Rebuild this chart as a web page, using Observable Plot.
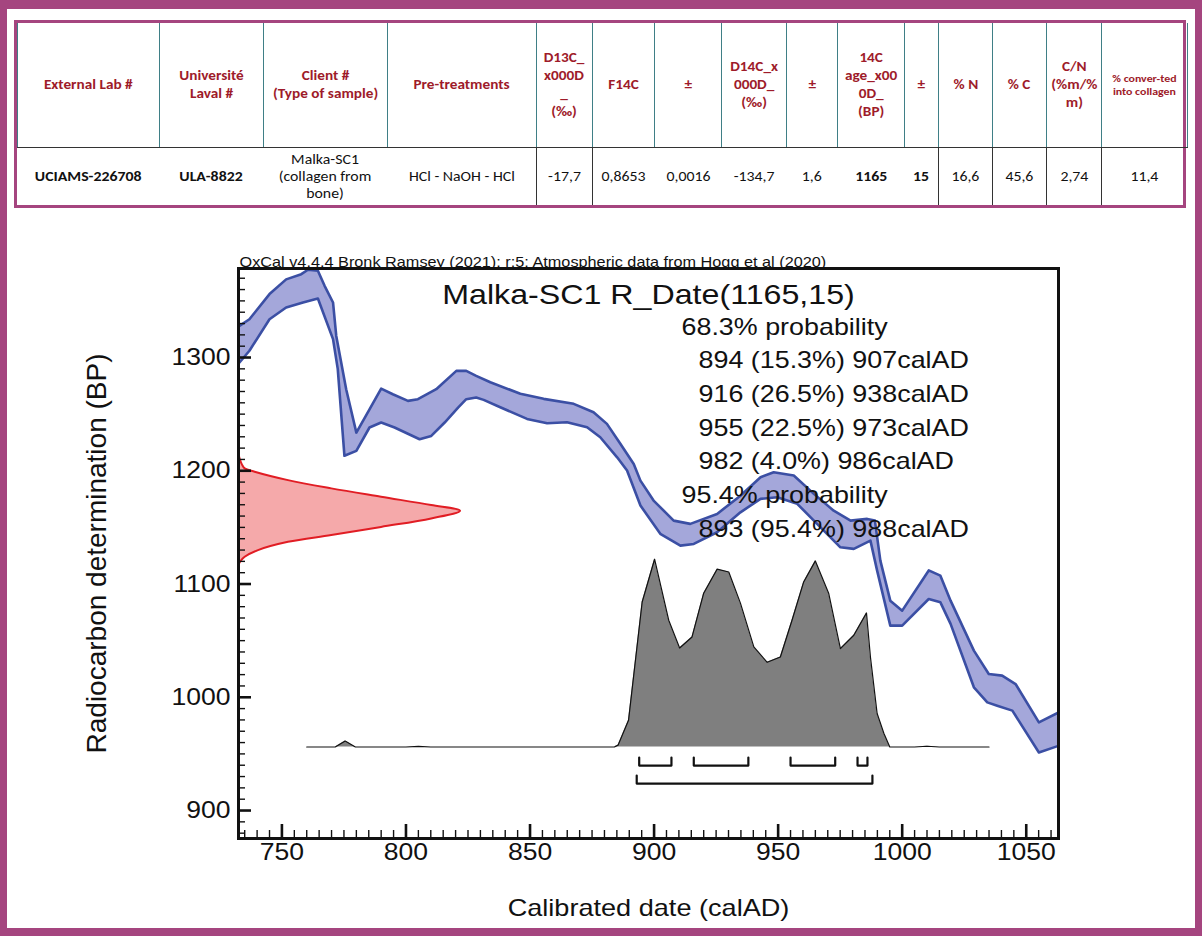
<!DOCTYPE html>
<html><head><meta charset="utf-8">
<script src="https://cdn.jsdelivr.net/npm/d3@7"></script>
<script src="https://cdn.jsdelivr.net/npm/@observablehq/plot@0.6"></script>
<style>
html,body{margin:0;padding:0;background:#fff;}
#page{position:relative;width:1202px;height:936px;overflow:hidden;background:#fff;}
#border{position:absolute;left:0;top:0;width:1202px;height:936px;box-sizing:border-box;border-style:solid;border-color:#a5457f;border-width:9px 7px 8px 7px;pointer-events:none;z-index:5;}
#tbl{position:absolute;left:14px;top:20px;width:1172px;height:188px;box-sizing:border-box;border:3px solid #a5457f;background:#fff;}
#tbl table{border-collapse:collapse;width:100%;height:100%;table-layout:fixed;font-family:Carlito,Lato,"Liberation Sans",sans-serif;}
#tbl th{color:#9e1b2a;font-weight:bold;font-size:13.5px;line-height:18px;text-align:center;vertical-align:middle;border-left:1.5px solid #3f7f86;border-right:1.5px solid #3f7f86;border-bottom:1.5px solid #333;padding:0;height:124px;white-space:nowrap;}
#tbl th.small{font-size:10.5px;line-height:13px;}
#tbl td{color:#111;font-size:14px;line-height:17px;text-align:center;vertical-align:middle;padding:0;white-space:nowrap;}
#tbl td.b{font-weight:bold;}
#tbl td.vl{border-left:1.5px solid #333;}
#tbl span.s{display:inline-block;transform:scaleX(1.13);transform-origin:50% 50%;}
#chart{position:absolute;left:0;top:230px;}
</style></head>
<body><div id="page"><div id="tbl"></div><div id="chart"></div><div id="border"></div></div>
<script>
// ---------- table data ----------
const headerCells = ["External Lab #", "Université\nLaval #", "Client #\n(Type of sample)", "Pre-treatments",
  "D13C_\nx000D\n_\n(‰)", "F14C", "±", "D14C_x\n000D_\n(‰)", "±", "14C\nage_x00\n0D_\n(BP)", "±",
  "% N", "% C", "C/N\n(%m/%\nm)", "% conver-ted\ninto collagen"];
const sampleRow = ["UCIAMS-226708", "ULA-8822", "Malka-SC1\n(collagen from\nbone)", "HCl - NaOH - HCl",
  "-17,7", "0,8653", "0,0016", "-134,7", "1,6", "1165", "15", "16,6", "45,6", "2,74", "11,4"];
const boldCols = [0, 1, 9, 10];
const ruledCols = [4, 5, 11, 12, 13, 14];
const colWidths = [142, 104, 124, 149, 56, 62, 67, 65, 51, 67, 34, 54, 54, 55, 86];

// ---------- chart data ----------
const upperYear = [732.9, 736.9, 745, 751.7, 757.8, 760.5, 764.5, 767.2, 770.6, 771.9, 775.9, 780, 785.3, 790, 794.7, 800.8, 804.8, 812.2, 820.3, 824.3, 828.3, 834, 846.1, 855.5, 867.6, 875.6, 881, 886.4, 891.8, 894.5, 899.8, 907.9, 914.6, 925.4, 934.8, 942.9, 948.2, 956.3, 964.4, 972.4, 979.2, 985.9, 989, 991.2, 995.2, 1000, 1010.7, 1015.4, 1019.5, 1028.9, 1034.9, 1040.3, 1045.7, 1055.1, 1063.1];
const upperBP = [1328, 1333.8, 1356, 1369, 1373.6, 1377.5, 1376.6, 1363.3, 1348.6, 1319, 1272, 1233.7, 1254.3, 1272.6, 1267.6, 1261.7, 1263.2, 1272, 1288.2, 1288.2, 1283.8, 1278.2, 1268, 1263.5, 1259.1, 1251.7, 1241.4, 1223.8, 1206, 1191.3, 1173.7, 1156, 1153.1, 1161.9, 1178, 1194.3, 1198.7, 1195.8, 1179.6, 1164.8, 1156, 1157.5, 1156, 1120.7, 1085.3, 1076.5, 1112, 1107.4, 1085.3, 1041.2, 1020.6, 1019.1, 1011.7, 977.8, 986.7];
const lowerYear = [732.9, 736.9, 745, 751.7, 758.5, 764.5, 770.6, 772.5, 775.2, 780, 785.3, 790, 795.4, 805.5, 810.2, 815.6, 821, 824.3, 828.3, 831.3, 838, 848.8, 856.9, 864.9, 873, 878.3, 885.1, 889.1, 894.5, 902.5, 910.6, 916, 925.4, 934.8, 942.9, 949.6, 957.7, 965.7, 975.1, 980.5, 987.2, 989.9, 995.2, 1000, 1010.7, 1015.4, 1019.5, 1028.9, 1034.3, 1038.3, 1044.4, 1055.1, 1063.1];
const lowerBP = [1295.6, 1306, 1333.8, 1344.2, 1348.6, 1352.1, 1316.2, 1290, 1213.2, 1217.6, 1238.2, 1242.6, 1238.2, 1227.8, 1230.8, 1242.6, 1255.8, 1263.2, 1264.7, 1262.6, 1256.1, 1245.8, 1242, 1242.8, 1238.4, 1229.6, 1211.9, 1200.2, 1169.3, 1144.3, 1133.9, 1135.4, 1145.7, 1163.3, 1175.2, 1176.6, 1170.8, 1153.1, 1132.4, 1131, 1138.3, 1111.8, 1063.3, 1063.3, 1086.8, 1083.8, 1064.8, 1008.8, 995.5, 992.6, 988.2, 951.3, 957.2];

// calibrated (posterior) distribution, relative probability
const postYear = [760, 771.5, 775.5, 779.6, 800, 805, 810, 884, 885.5, 889.7, 895.2, 900.2, 905.9, 910.3, 915.3, 920, 925.4, 930.1, 934.8, 940.2, 945.6, 950.9, 955.6, 960.3, 965, 970.4, 975.1, 980.5, 985.6, 987.2, 989.9, 992.6, 995, 1005, 1010, 1015, 1035];
const postProb = [0, 0, 0.032, 0, 0, 0.003, 0, 0, 0.01, 0.142, 0.772, 1, 0.675, 0.527, 0.586, 0.819, 0.947, 0.932, 0.766, 0.533, 0.451, 0.479, 0.675, 0.879, 0.991, 0.817, 0.524, 0.595, 0.714, 0.479, 0.178, 0.073, 0, 0, 0.004, 0, 0];

// radiocarbon determination (likelihood), relative probability
const likeBP = [1216, 1210, 1205, 1201.7, 1198.7, 1191.3, 1184, 1176.6, 1169.3, 1164.2, 1157.5, 1150, 1142.8, 1136.8, 1129.5, 1123.6, 1120, 1116];
const likeProb = [0, 0.008, 0.018, 0.03, 0.075, 0.225, 0.42, 0.644, 0.87, 1, 0.87, 0.644, 0.42, 0.225, 0.09, 0.03, 0.012, 0];

const ranges68 = [[894, 907], [916, 938], [955, 973], [982, 986]];
const ranges95 = [[893, 988]];

const headerNote = "OxCal v4.4.4 Bronk Ramsey (2021); r:5; Atmospheric data from Hogg et al (2020)";
const chartTitle = "Malka-SC1 R_Date(1165,15)";
const summaryLines = ["68.3% probability", "894 (15.3%) 907calAD", "916 (26.5%) 938calAD", "955 (22.5%) 973calAD", "982 (4.0%) 986calAD", "95.4% probability", "893 (95.4%) 988calAD"];
const yLabel = "Radiocarbon determination (BP)";
const xLabel = "Calibrated date (calAD)";
const yMajor = [900, 1000, 1100, 1200, 1300];
const xMajor = [750, 800, 850, 900, 950, 1000, 1050];

// ---------- build table ----------
(function () {
  const esc = s => s.replace(/&/g, "&amp;").replace(/</g, "&lt;").split("\n").join("<br>");
  const wrap = s => `<span class="s">${esc(s)}</span>`;
  let html = "<table><colgroup>" + colWidths.map(w => `<col style="width:${w}px">`).join("") + "</colgroup>";
  html += "<tr>" + headerCells.map((h, i) => `<th class="${i === headerCells.length - 1 ? "small" : ""}">${wrap(h)}</th>`).join("") + "</tr>";
  html += "<tr>" + sampleRow.map((v, i) => {
    const cls = [boldCols.includes(i) ? "b" : "", ruledCols.includes(i) ? "vl" : ""].join(" ");
    return `<td class="${cls}">${wrap(v)}</td>`;
  }).join("") + "</tr></table>";
  document.getElementById("tbl").innerHTML = html;
})();

// ---------- chart ----------
const xDomain = [732.5, 1063];
const yDomain = [875.3, 1378.6];
const postBase = 956.1, postHeight = 165.8;   // vertical placement of the calibrated distribution
const likeSpan = 89.5;                          // horizontal extent of the determination curve
const lvl68 = [946.8, 939.7], lvl95 = [930.9, 923.8];
const stretch = 1.13;                           // horizontal glyph stretch of the reference

const band = upperYear.map((x, i) => ({x, y: upperBP[i]}))
  .concat(lowerYear.map((x, i) => ({x, y: lowerBP[i]})).reverse());
const upper = upperYear.map((x, i) => ({x, y: upperBP[i]}));
const lower = lowerYear.map((x, i) => ({x, y: lowerBP[i]}));
const post = postYear.map((x, i) => ({x, p: postProb[i]}));
const like = likeBP.map((y, i) => ({y, p: likeProb[i]}));
const brackets = [];
ranges68.forEach((r, k) => { brackets.push({k: "a" + k, x: r[0], y: lvl68[0]}, {k: "a" + k, x: r[0], y: lvl68[1]}, {k: "a" + k, x: r[1], y: lvl68[1]}, {k: "a" + k, x: r[1], y: lvl68[0]}); });
ranges95.forEach((r, k) => { brackets.push({k: "b" + k, x: r[0], y: lvl95[0]}, {k: "b" + k, x: r[0], y: lvl95[1]}, {k: "b" + k, x: r[1], y: lvl95[1]}, {k: "b" + k, x: r[1], y: lvl95[0]}); });

const yMinor = d3.range(880, 1371, 10).filter(v => !yMajor.includes(v));
const xMinor = d3.range(735, 1061, 5).filter(v => !xMajor.includes(v));

const summaryMarks = summaryLines.map((s, i) => Plot.text([s], {
  frameAnchor: "top-left", textAnchor: "start", lineAnchor: "middle",
  dx: /probability/.test(s) ? 443 : 460, dy: 58.5 + i * 33.7, fontSize: 23.8, fill: "#111"
}));

const chart = Plot.plot({
  width: 1202, height: 698,
  marginLeft: 238, marginRight: 144, marginTop: 38, marginBottom: 90,
  x: {domain: xDomain, label: null},
  y: {domain: yDomain, label: null},
  style: {fontFamily: "'Liberation Sans', Arial, sans-serif", background: "transparent", color: "#111"},
  marks: [
    Plot.line(band, {x: "x", y: "y", fill: "#a4a7da", stroke: "none", clip: true}),
    Plot.line(upper, {x: "x", y: "y", stroke: "#3b4fa4", strokeWidth: 2.6, clip: true}),
    Plot.line(lower, {x: "x", y: "y", stroke: "#3b4fa4", strokeWidth: 2.6, clip: true}),
    Plot.areaY(post, {x: "x", y1: postBase, y2: d => postBase + d.p * postHeight, fill: "#7f7f7f"}),
    Plot.line(post, {x: "x", y: d => postBase + d.p * postHeight, stroke: "#111", strokeWidth: 1.2}),
    Plot.areaX(like, {y: "y", x1: xDomain[0], x2: d => xDomain[0] + d.p * likeSpan, fill: "#f5a9aa", stroke: "#e11d24", strokeWidth: 2, curve: "catmull-rom"}),
    Plot.line(brackets, {x: "x", y: "y", z: "k", stroke: "#111", strokeWidth: 2.2}),
    Plot.frame({stroke: "#111", strokeWidth: 3}),
    Plot.axisY(yMinor, {tickSize: -7, tickFormat: () => "", strokeWidth: 1.4, label: null}),
    Plot.axisY(yMajor, {tickSize: -13, tickFormat: () => "", strokeWidth: 2.6, label: null}),
    Plot.axisY(yMajor, {tickSize: 0, tickPadding: 8, fontSize: 23.5, tickFormat: d => String(d), label: null}),
    Plot.axisX(xMinor, {tickSize: -8, tickFormat: () => "", strokeWidth: 1.4, label: null}),
    Plot.axisX(xMajor, {tickSize: -14, tickFormat: () => "", strokeWidth: 2.6, label: null}),
    Plot.axisX(xMajor, {tickSize: 0, tickPadding: 5, fontSize: 23.5, tickFormat: d => String(d), label: null}),
    Plot.text([headerNote], {frameAnchor: "top-left", textAnchor: "start", lineAnchor: "bottom", dx: 1, dy: -2, fontSize: 14.4, fill: "#111"}),
    Plot.text([chartTitle], {frameAnchor: "top", textAnchor: "middle", lineAnchor: "middle", dy: 26, fontSize: 28.5, fill: "#111"}),
    ...summaryMarks,
    Plot.text([yLabel], {frameAnchor: "left", textAnchor: "middle", lineAnchor: "middle", dx: -141, rotate: -90, fontSize: 28, fill: "#111"}),
    Plot.text([xLabel], {frameAnchor: "bottom", textAnchor: "middle", lineAnchor: "middle", dy: 70, fontSize: 24, fill: "#111"})
  ]
});
// reproduce the reference's horizontally stretched glyphs on horizontal texts
d3.select(chart).selectAll("text").each(function () {
  const t = this.getAttribute("transform") || "";
  if (/rotate/.test(t)) return;
  const x = +this.getAttribute("x") || 0;
  if (x) this.setAttribute("x", x / stretch);
  this.setAttribute("transform", (t + " scale(" + stretch + ",1)").trim());
});
document.getElementById("chart").appendChild(chart);
</script>
</body></html>
